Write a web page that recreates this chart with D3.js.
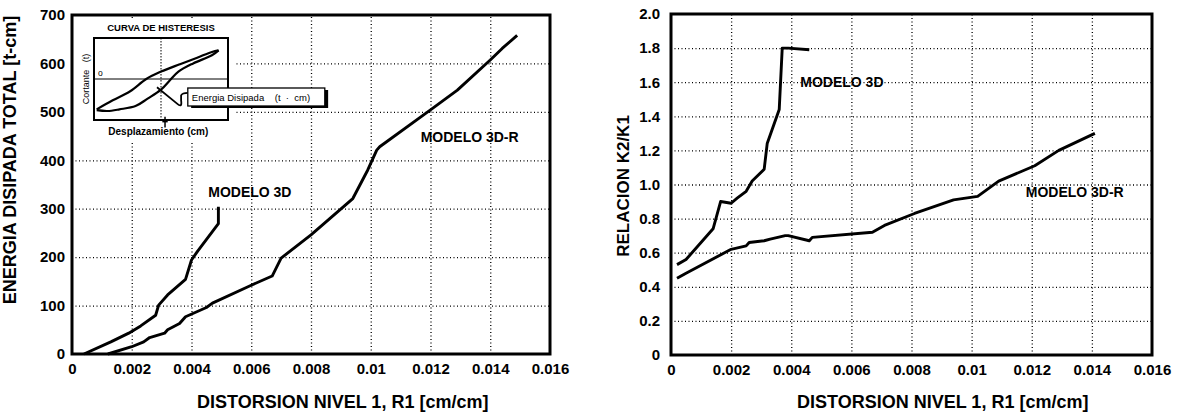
<!DOCTYPE html>
<html>
<head>
<meta charset="utf-8">
<script src="https://cdn.jsdelivr.net/npm/d3@7"></script>
<style>
  body { margin: 0; background: #fff; }
  svg { display: block; font-family: 'Liberation Sans', Arial, sans-serif; }
</style>
</head>
<body>
<svg id="chart" width="1179" height="415"></svg>
<script>
/* ----------  DATA  ---------- */
const xTicks = [0, 0.002, 0.004, 0.006, 0.008, 0.01, 0.012, 0.014, 0.016]
const energiaTicks = [0, 100, 200, 300, 400, 500, 600, 700]
const relacionTicks = [0, 0.2, 0.4, 0.6, 0.8, 1.0, 1.2, 1.4, 1.6, 1.8, 2.0]

// energia disipada vs distorsion  [R1, E]
const energia3D = [
  [0.0004, 0], [0.0013, 25], [0.0019, 43], [0.0023, 58], [0.0028, 80], [0.0029, 101],
  [0.0032, 122], [0.0038, 154], [0.0040, 194], [0.0042, 212], [0.0049, 269], [0.0049, 304]
]
const energia3DR = [
  [0.0012, 0], [0.0020, 15], [0.0024, 25], [0.0026, 34], [0.0031, 43], [0.0032, 50],
  [0.0036, 63], [0.0038, 77], [0.0045, 96], [0.0047, 105], [0.0060, 142], [0.0067, 161],
  [0.0070, 198], [0.0080, 246], [0.0094, 321], [0.0099, 380], [0.0102, 421], [0.0103, 428],
  [0.0120, 504], [0.0129, 545], [0.0140, 607], [0.0144, 631], [0.0149, 658]
]

// relacion K2/K1 vs distorsion  [R1, K2/K1]
const relacion3D = [
  [0.0002, 0.53], [0.0005, 0.56], [0.0014, 0.74], [0.00165, 0.90], [0.0020, 0.89], [0.0022, 0.92],
  [0.0025, 0.96], [0.0027, 1.02], [0.0031, 1.09], [0.0032, 1.24], [0.0036, 1.44], [0.0037, 1.80],
  [0.0039, 1.80], [0.0046, 1.79]
]
const relacion3DR = [
  [0.0002, 0.45], [0.0005, 0.48], [0.0020, 0.62], [0.0025, 0.64], [0.0026, 0.66], [0.0031, 0.67],
  [0.0033, 0.68], [0.0038, 0.70], [0.0039, 0.70], [0.0046, 0.67], [0.0047, 0.69], [0.0067, 0.72],
  [0.0071, 0.76], [0.0081, 0.83], [0.0094, 0.91], [0.0102, 0.93], [0.0109, 1.02], [0.0121, 1.11],
  [0.0129, 1.20], [0.0141, 1.30]
]

// inset sketch (arbitrary 0-100 units)
const lazoSuperior = [[2, 13], [14, 24], [27, 35], [39, 50], [50, 59], [64, 68], [77, 76], [88, 83], [93, 85]]
const lazoInferior = [[93, 85], [88, 79], [74, 69], [63, 59], [57, 49], [50, 37], [40, 26], [31, 17], [19, 13], [10, 11], [2, 12]]

/* ----------  HELPERS  ---------- */
const svg = d3.select('#chart')
const fmtX = d => d === 0 ? '0' : String(+d.toFixed(3))

function drawPanel (cfg) {
  const g = svg.append('g')
  const x = d3.scaleLinear().domain([0, 0.016]).range([cfg.left, cfg.right])
  const y = d3.scaleLinear().domain(cfg.yDomain).range([cfg.bottom, cfg.top])

  // dotted grid (gridlines come from the axis generator, like the labels)
  g.append('g')
    .attr('class', 'grid')
    .attr('transform', `translate(0,${cfg.bottom})`)
    .call(d3.axisBottom(x).tickValues(xTicks.slice(1, -1)).tickSize(-(cfg.bottom - cfg.top)).tickFormat(''))
  g.append('g')
    .attr('class', 'grid')
    .attr('transform', `translate(${cfg.left},0)`)
    .call(d3.axisLeft(y).tickValues(cfg.yTicks.slice(1, -1)).tickSize(-(cfg.right - cfg.left)).tickFormat(''))
  g.selectAll('.grid .domain').remove()
  g.selectAll('.grid line')
    .attr('stroke', '#000')
    .attr('stroke-width', 1.3)
    .attr('stroke-dasharray', '1,2.5')

  // tick labels
  g.append('g')
    .attr('transform', `translate(0,${cfg.bottom})`)
    .call(d3.axisBottom(x).tickValues(xTicks).tickSize(0).tickPadding(9).tickFormat(fmtX))
    .call(a => a.select('.domain').remove())
    .selectAll('text')
    .style('font-size', '15px')
    .style('font-weight', 'bold')
    .attr('fill', '#000')

  g.append('g')
    .attr('transform', `translate(${cfg.left},0)`)
    .call(d3.axisLeft(y).tickValues(cfg.yTicks).tickSize(0).tickPadding(cfg.yPad).tickFormat(cfg.yFormat))
    .call(a => a.select('.domain').remove())
    .selectAll('text')
    .style('font-size', '15px')
    .style('font-weight', 'bold')
    .attr('fill', '#000')

  // curves
  const line = d3.line().x(d => x(d[0])).y(d => y(d[1]))
  cfg.series.forEach(s => {
    g.append('path')
      .datum(s)
      .attr('fill', 'none')
      .attr('stroke', '#000')
      .attr('stroke-width', 2.9)
      .attr('stroke-linejoin', 'round')
      .attr('d', line)
  })

  // frame
  g.append('rect')
    .attr('x', cfg.left)
    .attr('y', cfg.top)
    .attr('width', cfg.right - cfg.left)
    .attr('height', cfg.bottom - cfg.top)
    .attr('fill', 'none')
    .attr('stroke', '#000')
    .attr('stroke-width', 3)

  // curve labels
  cfg.labels.forEach(l => {
    g.append('text')
      .attr('x', x(l.x))
      .attr('y', y(l.y))
      .style('font-size', '14px')
      .style('font-weight', 'bold')
      .text(l.text)
  })

  // axis titles
  g.append('text')
    .attr('x', cfg.xTitleX)
    .attr('y', 408)
    .style('font-size', '18px')
    .style('font-weight', 'bold')
    .text('DISTORSION NIVEL 1, R1 [cm/cm]')

  g.append('text')
    .attr('transform', `translate(${cfg.yTitleX},${cfg.yTitleY}) rotate(-90)`)
    .attr('text-anchor', 'middle')
    .style('font-size', cfg.yTitleSize)
    .style('font-weight', 'bold')
    .text(cfg.yTitle)

  return { g, x, y }
}

/* ----------  LEFT PANEL  ---------- */
const left = drawPanel({
  left: 72, right: 550, top: 15, bottom: 354,
  yDomain: [0, 700], yTicks: energiaTicks, yPad: 7, yFormat: d3.format('d'),
  series: [energia3D, energia3DR],
  labels: [
    { x: 0.00456, y: 325, text: 'MODELO 3D' },
    { x: 0.01167, y: 438, text: 'MODELO 3D-R' }
  ],
  xTitleX: 197,
  yTitle: 'ENERGIA DISIPADA TOTAL [t-cm]', yTitleX: 16, yTitleY: 160, yTitleSize: '18px'
})

/* ----------  RIGHT PANEL  ---------- */
drawPanel({
  left: 671, right: 1152, top: 14, bottom: 355,
  yDomain: [0, 2], yTicks: relacionTicks, yPad: 11,
  yFormat: d => d === 0 ? '0' : d3.format('.1f')(d),
  series: [relacion3D, relacion3DR],
  labels: [
    { x: 0.00430, y: 1.57, text: 'MODELO 3D' },
    { x: 0.01180, y: 0.927, text: 'MODELO 3D-R' }
  ],
  xTitleX: 797,
  yTitle: 'RELACION K2/K1', yTitleX: 629, yTitleY: 186, yTitleSize: '17px'
})

/* ----------  INSET: CURVA DE HISTERESIS  ---------- */
const ix = d3.scaleLinear().domain([0, 100]).range([94, 228])
const iy = d3.scaleLinear().domain([0, 100]).range([120, 38])
const inset = left.g.append('g')

inset.append('rect')
  .attr('x', ix(0) - 20).attr('y', 18).attr('width', 160).attr('height', 124)
  .attr('fill', '#fff')

inset.append('text')
  .attr('x', ix(50)).attr('y', 31)
  .attr('text-anchor', 'middle')
  .style('font-size', '9.5px')
  .style('font-weight', 'bold')
  .text('CURVA DE HISTERESIS')

inset.append('line')
  .attr('x1', ix(50)).attr('x2', ix(50)).attr('y1', iy(100)).attr('y2', iy(0))
  .attr('stroke', '#000').attr('stroke-width', 1).attr('stroke-dasharray', '1.5,1.5')

inset.append('line')
  .attr('x1', ix(0)).attr('x2', ix(100)).attr('y1', iy(50)).attr('y2', iy(50))
  .attr('stroke', '#000').attr('stroke-width', 1)

const lazo = d3.line().x(d => ix(d[0])).y(d => iy(d[1])).curve(d3.curveCatmullRom)
;[lazoSuperior, lazoInferior].forEach(s => {
  inset.append('path')
    .datum(s)
    .attr('fill', 'none')
    .attr('stroke', '#000')
    .attr('stroke-width', 2.2)
    .attr('d', lazo)
})

inset.append('rect')
  .attr('x', ix(0)).attr('y', iy(100))
  .attr('width', ix(100) - ix(0)).attr('height', iy(0) - iy(100))
  .attr('fill', 'none')
  .attr('stroke', '#000')
  .attr('stroke-width', 2)

inset.append('text')
  .attr('x', ix(3)).attr('y', iy(54))
  .style('font-size', '8.5px')
  .text('o')

inset.append('text')
  .attr('transform', `translate(${ix(0) - 5},${iy(50)}) rotate(-90)`)
  .attr('text-anchor', 'middle')
  .attr('xml:space', 'preserve')
  .style('font-size', '9px')
  .text('Cortante   (t)')

inset.append('text')
  .attr('x', ix(48)).attr('y', 135)
  .attr('text-anchor', 'middle')
  .style('font-size', '10px')
  .style('font-weight', 'bold')
  .text('Desplazamiento (cm)')

// small marker below the box
inset.append('line')
  .attr('x1', ix(53)).attr('x2', ix(53)).attr('y1', iy(4)).attr('y2', iy(-9))
  .attr('stroke', '#000').attr('stroke-width', 1.5)
inset.append('line')
  .attr('x1', ix(51)).attr('x2', ix(55)).attr('y1', iy(-2)).attr('y2', iy(-2))
  .attr('stroke', '#000').attr('stroke-width', 1.5)

// callout
inset.append('path')
  .attr('d', `M${ix(47)},${iy(40)} L${ix(62)},${iy(20)} Q${ix(66)},${iy(14)} ${ix(65)},${iy(24)} L${ix(65)},${iy(30)} Q${ix(66)},${iy(33)} ${ix(70)},${iy(33)}`)
  .attr('fill', 'none')
  .attr('stroke', '#000')
  .attr('stroke-width', 1.8)

inset.append('rect')
  .attr('x', ix(71) + 2).attr('y', 90)
  .attr('width', 137).attr('height', 18)
  .attr('fill', '#000')
inset.append('rect')
  .attr('x', ix(70)).attr('y', 88)
  .attr('width', 137).attr('height', 18)
  .attr('fill', '#fff')
  .attr('stroke', '#000')
  .attr('stroke-width', 1.3)

inset.append('text')
  .attr('x', ix(73)).attr('y', 100.5)
  .attr('xml:space', 'preserve')
  .style('font-size', '9.5px')
  .text('Energia Disipada    (t  ·  cm)')
</script>
</body>
</html>
